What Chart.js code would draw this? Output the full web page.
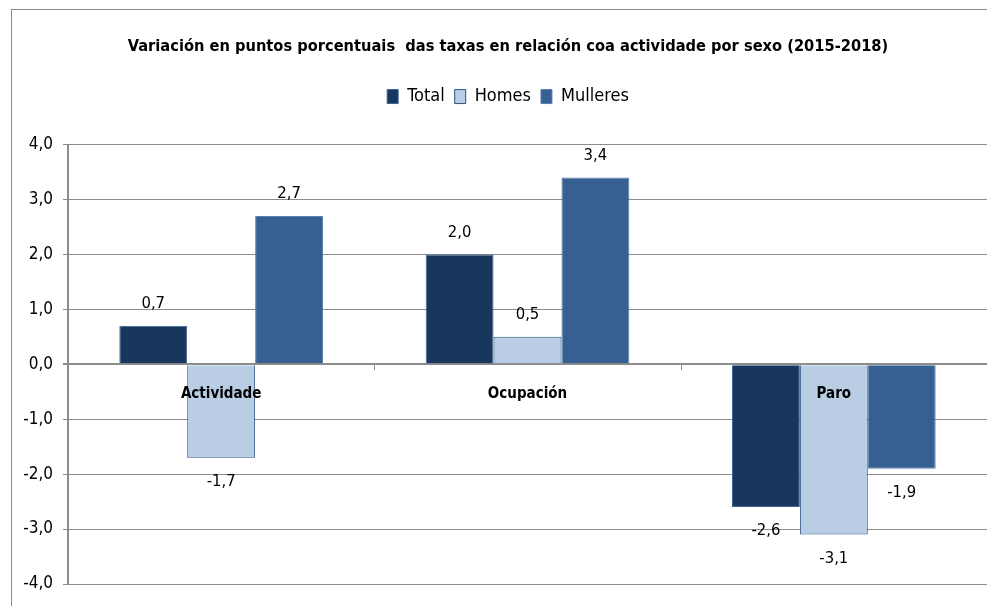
<!DOCTYPE html>
<html lang="gl"><head>
<meta charset="UTF-8">
<title>Variación das taxas por sexo</title>
<script src="https://cdn.jsdelivr.net/npm/chart.js@4.4.1/dist/chart.umd.min.js"></script>
<style>
	html, body { margin:0; padding:0; background:#FFFFFF; }
	body { width:987px; height:606px; overflow:hidden; position:relative; }
	#frame { position:absolute; left:11px; top:9px; width:990px; height:620px; border-left:1px solid #8a8a8a; border-top:1px solid #8a8a8a; }
	#wrap { position:absolute; left:0; top:0; width:1017px; height:606px; }
</style>
</head>
<body>
<div id="frame"></div>
<div id="wrap"><canvas id="taxas_chart" width="1017" height="606"></canvas></div>

<script>
// datos
const categories = ['Actividade', 'Ocupación', 'Paro'];
const total    = [0.7, 2.0, -2.6];
const homes    = [-1.7, 0.5, -3.1];
const mulleres = [2.7, 3.4, -1.9];
const yTicks      = [-4, -3, -2, -1, 0, 1, 2, 3, 4];
const yTickLabels = ['-4,0', '-3,0', '-2,0', '-1,0', '0,0', '1,0', '2,0', '3,0', '4,0'];

const FONT = "'Liberation Sans Narrow', 'DejaVu Sans Condensed', 'Roboto', sans-serif";
const GRID = '#8c8c8c';

function fmt(v) { return v.toFixed(1).replace('.', ','); }

// etiquetas de valor e de categoría, e marcas no eixo cero
const barLabels = {
	id: 'barLabels',
	afterDatasetsDraw(chart) {
		const ctx = chart.ctx;
		const xs = chart.scales.x, ys = chart.scales.y;
		const y0 = ys.getPixelForValue(0);
		ctx.save();
		// marcas entre categorías
		ctx.strokeStyle = GRID; ctx.lineWidth = 1;
		const step = xs.getPixelForValue(1) - xs.getPixelForValue(0);
		for (let i = 1; i < categories.length; i++) {
			const bx = Math.round(xs.getPixelForValue(i) - step / 2) + 0.5;
			ctx.beginPath(); ctx.moveTo(bx, y0); ctx.lineTo(bx, y0 + 6); ctx.stroke();
		}
		ctx.fillStyle = '#000000';
		ctx.textAlign = 'center'; ctx.textBaseline = 'middle';
		ctx.font = '16.5px ' + FONT;
		chart.data.datasets.forEach((ds, di) => {
			const meta = chart.getDatasetMeta(di);
			meta.data.forEach((bar, i) => {
				const v = ds.data[i];
				const ty = v >= 0 ? bar.y - 22 : bar.y + 24;
				ctx.fillText(fmt(v), bar.x, ty);
			});
		});
		ctx.font = 'bold 15px ' + FONT;
		categories.forEach((c, i) => {
			ctx.fillText(c, xs.getPixelForValue(i), y0 + 30);
		});
		ctx.restore();
	}
};

// espazo extra baixo a lenda
const legendGap = {
	id: 'legendGap',
	beforeInit(chart) {
		const fit = chart.legend.fit;
		chart.legend.fit = function () { fit.bind(chart.legend)(); this.height += 29; };
	}
};

new Chart(document.getElementById('taxas_chart'), {
	type: 'bar',
	data: {
		labels: categories,
		datasets: [
			{ label: 'Total', data: total, backgroundColor: '#17375E', borderColor: '#3f6494', borderWidth: 1 },
			{ label: 'Homes', data: homes, backgroundColor: '#B9CDE5', borderColor: '#2b5385', borderWidth: 1 },
			{ label: 'Mulleres', data: mulleres, backgroundColor: '#376092', borderColor: '#5b7eab', borderWidth: 1 }
		]
	},
	options: {
		responsive: false,
		animation: false,
		events: [],
		layout: { padding: { left: 29, right: 30, top: 0, bottom: 22 } },
		datasets: { bar: { categoryPercentage: 0.665, barPercentage: 1.0 } },
		scales: {
			x: { display: false, offset: true },
			y: {
				min: -4, max: 4,
				afterBuildTicks(scale) { scale.ticks = yTicks.map(v => ({ value: v })); },
				afterFit(scale) {
					scale.width = 39;
					// as etiquetas saen un pouco á esquerda da caixa do eixo
					scale._computeLabelArea = () => undefined;
				},
				afterUpdate(scale) { scale._labelArea = undefined; },
				ticks: {
					callback: (v) => yTickLabels[yTicks.indexOf(v)],
					color: '#000000',
					font: { family: FONT, size: 17 },
					padding: 10
				},
				grid: {
					color: GRID,
					lineWidth: (c) => (c.tick && c.tick.value === 0 ? 2 : 1),
					tickLength: 5,
					tickColor: GRID
				},
				border: { display: true, color: GRID, width: 2 }
			}
		},
		plugins: {
			title: {
				display: true,
				text: 'Variación en puntos porcentuais  das taxas en relación coa actividade por sexo (2015-2018)',
				color: '#000000',
				font: { family: FONT, size: 16.3, weight: 'bold' },
				padding: { top: 37, bottom: 21 }
			},
			legend: {
				display: true,
				position: 'top',
				labels: {
					color: '#000000',
					font: { family: FONT, size: 18 },
					boxWidth: 11, boxHeight: 14,
					padding: 10
				}
			},
			tooltip: { enabled: false }
		}
	},
	plugins: [barLabels, legendGap]
});
</script>
</body></html>
